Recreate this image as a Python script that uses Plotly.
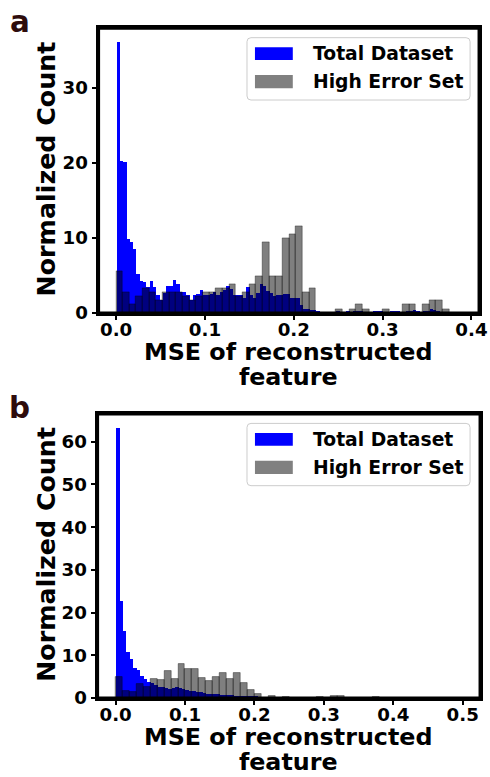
import plotly.graph_objects as go

# ---------------- data ----------------
# Panel a: normalized histogram counts
a_blue_bin_width = 0.00375
a_blue_counts = [
    36.0, 20.2, 20.0, 9.8, 9.4, 8.5, 5.2, 4.2, 4.1, 3.4,
    4.2, 3.4, 2.4, 1.7, 2.6, 3.5, 3.6, 4.4, 3.8, 2.8,
    2.8, 2.3, 1.7, 2.3, 2.5, 3.0, 2.3, 2.4, 2.5, 2.8,
    2.3, 2.8, 3.0, 3.5, 3.2, 2.3, 2.3, 2.3, 1.9, 3.4,
    2.3, 1.9, 2.6, 3.8, 3.6, 2.9, 2.6, 2.2, 2.3, 2.3,
    2.5, 2.5, 2.0, 2.0, 1.9, 1.0, 0.55, 0.55, 0.4, 0.3,
    0.1, 0.05, 0.05, 0.0, 0.05, 0.0, 0.1, 0.0, 0.05, 0.1,
    0.0, 0.1, 0.2, 0.1, 0.0, 0.05, 0.05, 0.1, 0.1, 0.2,
    0.05, 0.05, 0.1, 0.2, 0.1, 0.0, 0.05, 0.1, 0.2, 0.3,
    0.1, 0.05, 0.1, 0.2, 0.5, 0.3, 0.1, 0.05, 0.0, 0.05,
]
a_gray_bin_width = 0.0075
a_gray_counts = [
    5.5, 2.75, 1.1, 2.2, 3.3, 2.75, 1.65, 2.75, 2.75, 2.75,
    2.2, 1.65, 2.2, 2.75, 2.75, 3.3, 3.3, 3.85, 2.2, 2.75,
    3.85, 4.95, 9.35, 4.95, 4.95, 9.9, 10.45, 11.55, 2.75, 3.3,
    0.0, 0.0, 0.0, 0.55, 0.0, 0.55, 1.1, 0.55, 0.0, 0.0,
    0.55, 0.0, 0.0, 1.1, 1.1, 0.0, 1.1, 1.65, 1.65, 0.55,
]

# Panel b
b_blue_bin_width = 0.005
b_blue_counts = [
    63.3, 22.8, 15.8, 10.8, 9.2, 7.1, 6.5, 5.2, 4.4, 3.8,
    3.4, 3.0, 2.6, 2.6, 2.4, 2.2, 2.3, 2.5, 2.3, 2.2,
    1.9, 1.6, 1.6, 1.4, 1.4, 1.2, 1.0, 1.0, 0.9, 0.9,
    0.7, 0.7, 0.6, 0.6, 0.5, 0.5, 0.5, 0.4, 0.3, 0.3,
    0.3, 0.2, 0.2, 0.15, 0.15, 0.1, 0.1, 0.1, 0.08, 0.08,
    0.06, 0.06, 0.05, 0.05, 0.04, 0.04, 0.03, 0.03, 0.03, 0.02,
    0.02, 0.02, 0.02, 0.0, 0.02, 0.0, 0.02, 0.0, 0.02, 0.0,
    0.02, 0.0, 0.0, 0.02, 0.0, 0.0, 0.02, 0.0, 0.0, 0.0,
    0.02, 0.0, 0.0, 0.0, 0.0, 0.02, 0.0, 0.0, 0.0, 0.0,
    0.0, 0.0, 0.02, 0.0, 0.0, 0.0, 0.0, 0.0, 0.0, 0.02,
]
b_gray_bin_width = 0.01
b_gray_counts = [
    4.9, 1.7, 1.4, 3.2, 2.6, 4.5, 4.3, 6.3, 4.4, 8.0,
    6.7, 6.8, 4.6, 4.0, 5.0, 5.8, 4.4, 5.9, 3.5, 1.9,
    1.0, 0.0, 0.4, 0.1, 0.35, 0.0, 0.0, 0.0, 0.0, 0.3,
    0.0, 0.5, 0.5, 0.0, 0.0, 0.0, 0.0, 0.3,
]

series_names = ["Total Dataset", "High Error Set"]
panel_letters = ["a", "b"]
a_xticks = [0.0, 0.1, 0.2, 0.3, 0.4]
a_yticks = [0, 10, 20, 30]
b_xticks = [0.0, 0.1, 0.2, 0.3, 0.4, 0.5]
b_yticks = [0, 10, 20, 30, 40, 50, 60]
x_title_lines = ["MSE of reconstructed", "feature"]
y_title = "Normalized Count"

# ---------------- styling / layout ----------------
W, H = 490, 777          # reference pixel frame used for placement
S = 1.013                # the captured page comes out ~1.3 % smaller; compensate
FW, FH = round(W * S), round(H * S)
BLUE = "#0000ff"
GRAY_FILL = "rgba(0,0,0,0.5)"
GRAY_EDGE = "rgba(0,0,0,0.45)"
FONT = "DejaVu Sans"
LETTER_COLOR = "#2e0c0c"


def px(x):
    return x / W


def py(y):
    return 1 - y / H


def sz(v):
    return v * S


def centers(n, w):
    return [w * (i + 0.5) for i in range(n)]


fig = go.Figure()

panels = [
    dict(xa="x", ya="y", bb=(a_blue_counts, a_blue_bin_width),
         gg=(a_gray_counts, a_gray_bin_width)),
    dict(xa="x2", ya="y2", bb=(b_blue_counts, b_blue_bin_width),
         gg=(b_gray_counts, b_gray_bin_width)),
]
for p in panels:
    bc, bw = p["bb"]
    fig.add_trace(go.Bar(x=centers(len(bc), bw), y=bc, width=bw,
                         marker=dict(color=BLUE, line=dict(width=0)),
                         xaxis=p["xa"], yaxis=p["ya"], showlegend=False,
                         name=series_names[0]))
    gc, gw = p["gg"]
    fig.add_trace(go.Bar(x=centers(len(gc), gw), y=gc, width=gw,
                         marker=dict(color=GRAY_FILL,
                                     line=dict(color=GRAY_EDGE, width=0.8)),
                         xaxis=p["xa"], yaxis=p["ya"], showlegend=False,
                         name=series_names[1]))

tickfont = dict(family=FONT, size=sz(18), color="black", weight="bold")
axis_common = dict(showline=True, mirror=True, linecolor="#000000", linewidth=3,
                   ticks="outside", ticklen=4, tickwidth=1.5, tickcolor="#000000",
                   showgrid=False, zeroline=False, tickfont=tickfont)
xaxis_common = dict(axis_common, ticklabelstandoff=-6)

# panel geometry in reference pixels
A = dict(l=99, r=481, t=28.3, b=313)
B = dict(l=98, r=482, t=414, b=698)

fig.update_layout(
    width=FW, height=FH, margin=dict(l=0, r=0, t=0, b=0),
    paper_bgcolor="white", plot_bgcolor="white",
    barmode="overlay", bargap=0, showlegend=False,
    xaxis=dict(domain=[px(A["l"]), px(A["r"])], anchor="y",
               range=[-0.0197, 0.4085], tickvals=a_xticks,
               ticktext=[f"{v:.1f}" for v in a_xticks], **xaxis_common),
    yaxis=dict(domain=[py(A["b"]), py(A["t"])], anchor="x",
               range=[0, 37.9], tickvals=a_yticks, **axis_common),
    xaxis2=dict(domain=[px(B["l"]), px(B["r"])], anchor="y2",
                range=[-0.026, 0.525], tickvals=b_xticks,
                ticktext=[f"{v:.1f}" for v in b_xticks], **xaxis_common),
    yaxis2=dict(domain=[py(B["b"]), py(B["t"])], anchor="x2",
                range=[0, 66.5], tickvals=b_yticks, **axis_common),
)

annotations = []
shapes = []
title_font = dict(family=FONT, size=sz(25), color="black", weight="bold")
legend_font = dict(family=FONT, size=sz(18.5), color="black", weight="bold")
# base size sets the line spacing (1.3 x base ~ 25 px); spans carry the real size
xtitle_text = "<br>".join(f"<span style='font-size:{sz(23.5):.1f}px'>{t}</span>"
                          for t in x_title_lines)

for k, (P, xr, yr) in enumerate([(A, "x", "y"), (B, "x2", "y2")]):
    off = P["t"] - A["t"]
    cx = (P["l"] + P["r"]) / 2
    # frame around the plotting area
    shapes.append(dict(type="rect", xref=f"{xr} domain", yref=f"{yr} domain",
                       x0=0, x1=1, y0=0, y1=1, layer="above",
                       line=dict(color="#000000", width=3),
                       fillcolor="rgba(0,0,0,0)"))
    # panel letter
    annotations.append(dict(text=panel_letters[k], x=px(20), y=py(22 + off),
                            xref="paper", yref="paper", showarrow=False,
                            xanchor="center", yanchor="middle",
                            font=dict(family=FONT, size=sz(29), color=LETTER_COLOR,
                                      weight="bold")))
    # y title
    annotations.append(dict(text=y_title, x=px(46), y=py((P["t"] + P["b"]) / 2 - 2),
                            xref="paper", yref="paper", showarrow=False,
                            textangle=-90, xanchor="center", yanchor="middle",
                            font=title_font))
    # x title (two lines, one text block)
    annotations.append(dict(text=xtitle_text, x=px(cx), y=py(P["b"] + 51.4),
                            xref="paper", yref="paper", showarrow=False,
                            xanchor="center", yanchor="middle", align="center",
                            font=dict(family=FONT, size=sz(19.2), color="black",
                                      weight="bold")))
    # legend box
    x0, x1, y0, y1, r = 248, 472, 37.7 + off, 100 + off, 4
    path = (f"M {px(x0 + r)},{py(y0)} L {px(x1 - r)},{py(y0)} "
            f"Q {px(x1)},{py(y0)} {px(x1)},{py(y0 + r)} "
            f"L {px(x1)},{py(y1 - r)} Q {px(x1)},{py(y1)} {px(x1 - r)},{py(y1)} "
            f"L {px(x0 + r)},{py(y1)} Q {px(x0)},{py(y1)} {px(x0)},{py(y1 - r)} "
            f"L {px(x0)},{py(y0 + r)} Q {px(x0)},{py(y0)} {px(x0 + r)},{py(y0)} Z")
    shapes.append(dict(type="path", path=path, xref="paper", yref="paper",
                       fillcolor="rgba(255,255,255,0.8)",
                       line=dict(color="#cccccc", width=1)))
    # legend patches + labels
    for j, (ytop, ybot, color) in enumerate([(47.3, 60, BLUE),
                                              (75, 88.3, "#808080")]):
        shapes.append(dict(type="rect", xref="paper", yref="paper",
                           x0=px(256), x1=px(294), y0=py(ybot + off), y1=py(ytop + off),
                           fillcolor=color, line=dict(width=0)))
        annotations.append(dict(text=series_names[j], x=px(312),
                                y=py((ytop + ybot) / 2 + off),
                                xref="paper", yref="paper", showarrow=False,
                                xanchor="left", yanchor="middle", font=legend_font))

fig.update_layout(annotations=annotations, shapes=shapes)

page_fix = (
    "var de=document.documentElement, b=document.body;"
    "de.style.margin='0'; de.style.padding='0';"
    "b.style.margin='0'; b.style.padding='0';"
)
fig.write_html("out.html", post_script=page_fix,
               config={"displayModeBar": False, "responsive": False})
